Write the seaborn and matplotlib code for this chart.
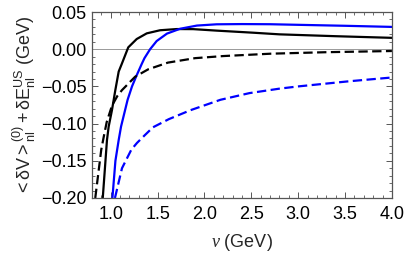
import numpy as np
import pandas as pd
import matplotlib
matplotlib.use("Agg")
import matplotlib.pyplot as plt
import seaborn as sns

# values
black_solid_x = [0.915, 0.96, 0.978, 1.013, 1.049, 1.085, 1.117, 1.187, 1.277, 1.384, 1.526, 1.704, 1.88, 2.13, 2.52, 2.80, 3.40, 4.00]
black_solid_y = [-0.200, -0.122, -0.104, -0.082, -0.055, -0.030, -0.020, 0.0025, 0.0137, 0.0213, 0.0255, 0.0271, 0.0270, 0.0250, 0.0222, 0.0200, 0.0175, 0.0153]

black_dash_x = [0.835, 0.899, 0.925, 0.957, 1.013, 1.07, 1.12, 1.26, 1.40, 1.61, 1.90, 2.20, 2.71, 3.30, 4.00]
black_dash_y = [-0.200, -0.135, -0.118, -0.098, -0.076, -0.063, -0.055, -0.037, -0.027, -0.018, -0.012, -0.0092, -0.0060, -0.0040, -0.0024]

blue_solid_x = [1.018, 1.05, 1.085, 1.11, 1.18, 1.227, 1.27, 1.33, 1.36, 1.42, 1.49, 1.60, 1.74, 1.92, 2.13, 2.40, 2.70, 3.00, 3.50, 4.00]
blue_solid_y = [-0.200, -0.150, -0.122, -0.104, -0.068, -0.050, -0.037, -0.020, -0.012, 0.000, 0.011, 0.021, 0.0275, 0.0318, 0.0335, 0.0338, 0.0336, 0.0328, 0.0315, 0.0300]

blue_dash_x = [1.045, 1.12, 1.22, 1.28, 1.36, 1.45, 1.62, 1.85, 2.17, 2.48, 2.80, 3.00, 3.55, 4.00]
blue_dash_y = [-0.200, -0.160, -0.135, -0.126, -0.116, -0.105, -0.094, -0.082, -0.068, -0.059, -0.053, -0.050, -0.043, -0.038]

x_ticks = [1.0, 1.5, 2.0, 2.5, 3.0, 3.5, 4.0]
y_ticks = [-0.20, -0.15, -0.10, -0.05, 0.00, 0.05]

sns.set_theme(style="ticks")
plt.rcParams['font.family'] = ['Liberation Sans', 'DejaVu Sans']
plt.rcParams['mathtext.fontset'] = 'custom'
plt.rcParams['mathtext.rm'] = 'Liberation Sans'
plt.rcParams['mathtext.it'] = 'Liberation Serif:italic'
plt.rcParams['mathtext.default'] = 'regular'

fig = plt.figure(figsize=(4.07, 2.57), dpi=100)
ax = fig.add_axes([0.226, 0.2296, 0.737, 0.7236])

# thin reference line at zero
ax.axhline(0, color='#999999', lw=0.7, zorder=1)

curves = [
    (black_solid_x, black_solid_y, 'black', '-'),
    (blue_solid_x, blue_solid_y, 'blue', '-'),
    (black_dash_x, black_dash_y, 'black', '--'),
    (blue_dash_x, blue_dash_y, 'blue', '--'),
]
for xs, ys, col, ls in curves:
    df = pd.DataFrame({'nu': xs, 'E': ys})
    sns.lineplot(data=df, x='nu', y='E', sort=False, estimator=None,
                 color=col, lw=1.6, ax=ax)
    if ls == '--':
        ax.lines[-1].set_dashes((4.2, 2.0))

ax.set_xlim(0.8, 4.0)
ax.set_ylim(-0.20, 0.05)
ax.set_xticks(x_ticks)
ax.set_yticks(y_ticks)
ax.set_xticklabels([f"{t:.1f}" for t in x_ticks])
ax.set_yticklabels([f"{t:.2f}".replace('-', '\u2212') for t in y_ticks])
ax.set_xticks(np.arange(0.8, 4.001, 0.1), minor=True)
ax.set_yticks(np.arange(-0.20, 0.0501, 0.01), minor=True)

for s in ax.spines.values():
    s.set_color('#555555')
    s.set_linewidth(0.9)
ax.tick_params(which='both', direction='in', top=True, right=True, color='#555555', width=0.7)
ax.tick_params(which='major', length=4, labelsize=13, labelcolor='black')
ax.tick_params(which='minor', length=2.5, width=0.6)
ax.tick_params(axis='x', which='major', pad=6)
ax.tick_params(axis='y', which='major', pad=4)

ax.set_xlabel(r'$\mathit{\nu}$ (GeV)', fontsize=13, labelpad=6)
ax.set_ylabel(r'$<\delta V>_{nl}^{(0)}+\delta E_{nl}^{US}$ (GeV)', fontsize=13, labelpad=2)

fig.savefig('out.png', dpi=100)
